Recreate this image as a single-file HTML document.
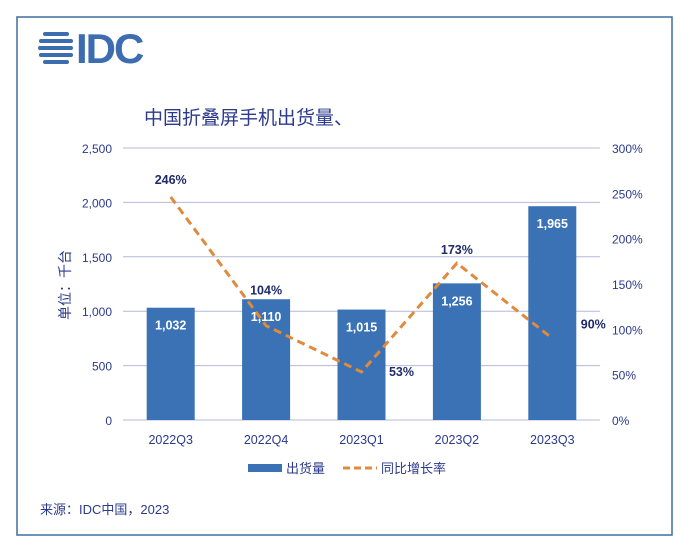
<!DOCTYPE html>
<html><head><meta charset="utf-8"><style>
body{margin:0;background:#fff;width:690px;height:553px;overflow:hidden;font-family:"Liberation Sans","Noto Sans CJK SC",sans-serif}
</style></head><body>
<svg width="690" height="553" xmlns="http://www.w3.org/2000/svg">
<rect x="17" y="17" width="655" height="518" fill="#fff" stroke="#3f6f9a" stroke-width="1.5"/>
<g fill="#3b6db0">
<rect x="43" y="32" width="26" height="4" rx="2"/>
<rect x="39" y="39" width="34" height="4" rx="2"/>
<rect x="38" y="46" width="35" height="4" rx="2"/>
<rect x="39" y="53" width="34" height="4" rx="2"/>
<rect x="43" y="60" width="26" height="4" rx="2"/>
<text x="76" y="63" font-size="42" font-weight="bold" font-family="Liberation Sans,sans-serif" letter-spacing="-2">IDC</text>
</g>
<text x="144" y="124" font-size="19" fill="#2b3a8c">中国折叠屏手机出货量、</text>
<g id="grid"></g><g id="bars"></g><g id="line"></g><g id="labels"></g>
<text transform="translate(70,285) rotate(-90)" text-anchor="middle" font-size="14" fill="#2b3a8c">单位：千台</text>
<g>
<rect x="248" y="464" width="34" height="8" fill="#3a72b5"/>
<text x="286" y="473" font-size="13" fill="#2b3a8c">出货量</text>
<line x1="343" y1="468" x2="377" y2="468" stroke="#e08a3c" stroke-width="3" stroke-dasharray="7,4"/>
<text x="381" y="473" font-size="13" fill="#2b3a8c">同比增长率</text>
</g>
<text x="40" y="514" font-size="13" fill="#2b3a8c">来源：IDC中国，2023</text>
</svg>
<script>
const categories=["2022Q3","2022Q4","2023Q1","2023Q2","2023Q3"];
const shipments=[1032,1110,1015,1256,1965];
const growth=[246,104,53,173,90];
const leftTicks=[0,500,1000,1500,2000,2500];
const leftTickLabels=["0","500","1,000","1,500","2,000","2,500"];
const rightTicks=[0,50,100,150,200,250,300];
const NS="http://www.w3.org/2000/svg";
const x0=123,x1=600,yb=420,yt=148;
const band=(x1-x0)/categories.length;
const xc=i=>x0+band*(i+0.5);
const yL=v=>yb-(v/2500)*(yb-yt);
const yR=v=>yb-(v/300)*(yb-yt);
function mk(t,a,p){const e=document.createElementNS(NS,t);for(const k in a)e.setAttribute(k,a[k]);p.appendChild(e);return e;}
const g=document.getElementById('grid'),b=document.getElementById('bars'),l=document.getElementById('line'),lb=document.getElementById('labels');
leftTicks.forEach((v,i)=>{
 const ln=mk('line',{x1:x0,x2:x1,y1:yL(v),y2:yL(v),stroke:'#b4b8dc','stroke-width':1},g);
 
 
 const t=mk('text',{x:112,y:yL(v)+5,'text-anchor':'end','font-size':12,fill:'#2b3a8c'},g);
 t.textContent=leftTickLabels[i];
 
 
});
rightTicks.forEach(v=>{
 const t=mk('text',{x:612,y:yR(v)+5,'font-size':12,fill:'#2b3a8c'},g);
 t.textContent=v+'%';
 
 
});
categories.forEach((c,i)=>{
 const t=mk('text',{x:xc(i),y:444,'text-anchor':'middle','font-size':12.5,fill:'#2b3a8c'},g);
 t.textContent=c;
 
 
 const r=mk('rect',{x:xc(i)-24,y:yL(shipments[i]),width:48,height:yb-yL(shipments[i]),fill:'#3a72b5'},b);
 
 
 const v=mk('text',{x:xc(i),y:yL(shipments[i])+22,'text-anchor':'middle','font-size':12.5,'font-weight':'bold',fill:'#fff'},lb);
 v.textContent=shipments[i].toLocaleString('en-US');
 
 
});
const pts=growth.map((v,i)=>xc(i)+','+yR(v)).join(' ');
const pl=mk('polyline',{points:pts,fill:'none',stroke:'#e08a3c','stroke-width':3,'stroke-dasharray':'8,5'},l);


const off=[[0,-17],[0,-35],[40,0],[0,-13],[41,-14]];
growth.forEach((v,i)=>{
 const t=mk('text',{x:xc(i)+off[i][0],y:yR(v)+off[i][1]+4,'text-anchor':'middle','font-size':12.5,'font-weight':'bold',fill:'#1f2a6b'},lb);
 t.textContent=v+'%';
 
 
});
</script>
</body></html>
